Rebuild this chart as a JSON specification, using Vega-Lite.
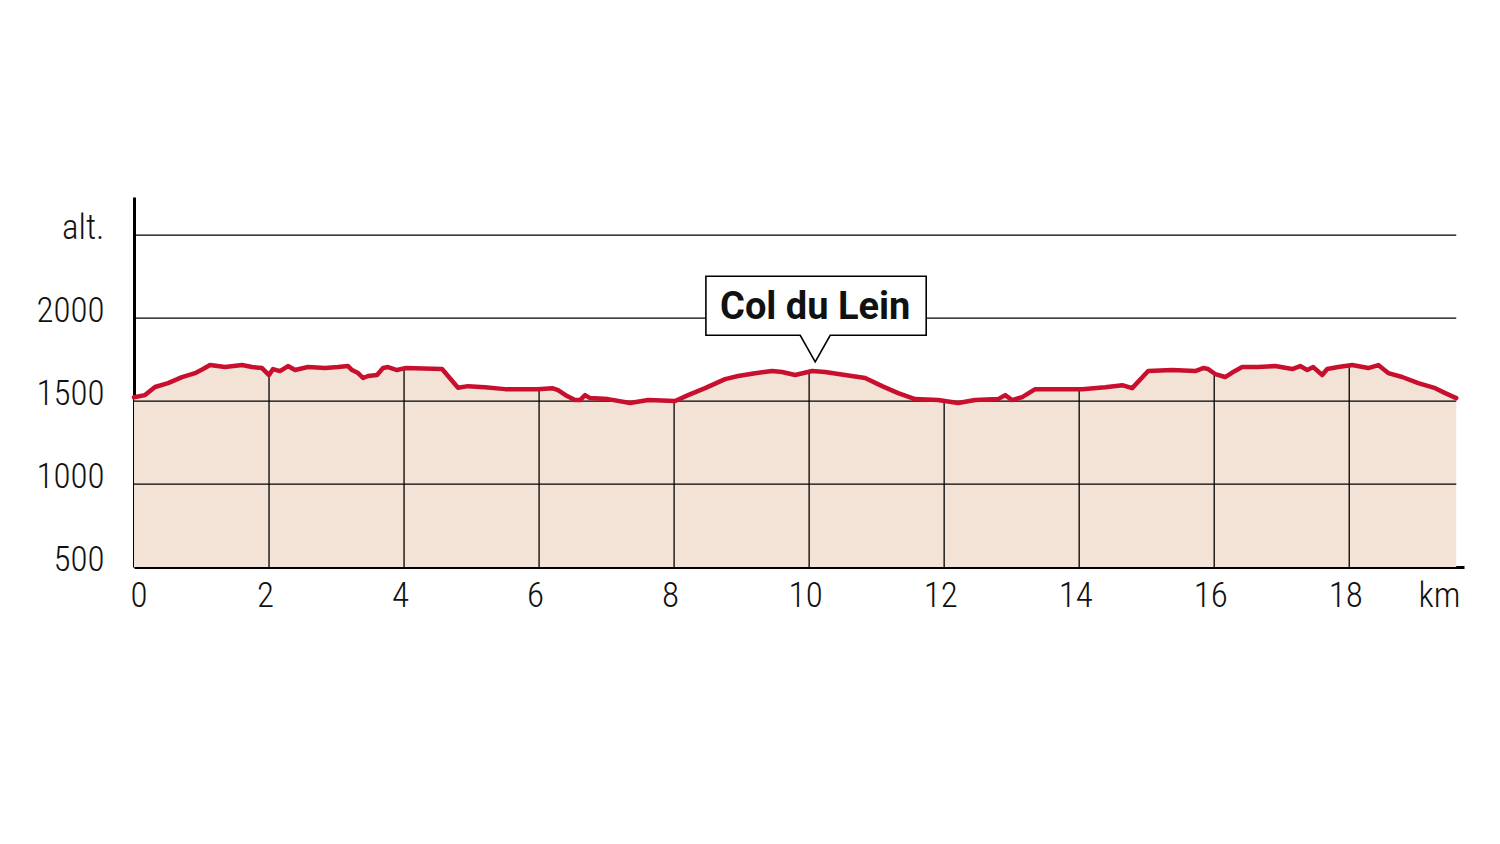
{
  "$schema": "https://vega.github.io/schema/vega-lite/v6.json",
  "autosize": "none",
  "width": 1330,
  "height": 370,
  "padding": {"left": 134, "top": 197, "right": 36, "bottom": 277},
  "background": "white",
  "config": {
    "view": {"stroke": null},
    "axis": {"labelFont": "'Roboto Condensed', 'DejaVu Sans Condensed', 'Liberation Sans Narrow', Roboto, sans-serif", "labelFontWeight": 300, "labelColor": "#111", "grid": false, "ticks": false, "domainColor": "#000", "domainWidth": 3, "title": null}
  },
  "datasets": {
    "profile": [
      {"km": 0.0, "elev": 1523}, {"km": 0.163, "elev": 1536}, {"km": 0.311, "elev": 1585}, {"km": 0.504, "elev": 1608},
      {"km": 0.711, "elev": 1644}, {"km": 0.904, "elev": 1668}, {"km": 1.022, "elev": 1693}, {"km": 1.126, "elev": 1717},
      {"km": 1.348, "elev": 1705}, {"km": 1.6, "elev": 1717}, {"km": 1.748, "elev": 1705}, {"km": 1.896, "elev": 1699},
      {"km": 2.0, "elev": 1657}, {"km": 2.059, "elev": 1693}, {"km": 2.163, "elev": 1681}, {"km": 2.281, "elev": 1711},
      {"km": 2.385, "elev": 1687}, {"km": 2.578, "elev": 1705}, {"km": 2.83, "elev": 1699}, {"km": 3.022, "elev": 1705},
      {"km": 3.17, "elev": 1711}, {"km": 3.23, "elev": 1687}, {"km": 3.319, "elev": 1669}, {"km": 3.393, "elev": 1639},
      {"km": 3.467, "elev": 1651}, {"km": 3.6, "elev": 1657}, {"km": 3.689, "elev": 1699}, {"km": 3.763, "elev": 1705},
      {"km": 3.896, "elev": 1687}, {"km": 4.015, "elev": 1699}, {"km": 4.563, "elev": 1693}, {"km": 4.8, "elev": 1580},
      {"km": 4.948, "elev": 1590}, {"km": 5.2, "elev": 1584}, {"km": 5.496, "elev": 1572}, {"km": 5.985, "elev": 1572},
      {"km": 6.193, "elev": 1578}, {"km": 6.281, "elev": 1566}, {"km": 6.415, "elev": 1530}, {"km": 6.533, "elev": 1506},
      {"km": 6.607, "elev": 1506}, {"km": 6.681, "elev": 1536}, {"km": 6.756, "elev": 1518}, {"km": 7.022, "elev": 1512},
      {"km": 7.348, "elev": 1488}, {"km": 7.615, "elev": 1506}, {"km": 8.015, "elev": 1500}, {"km": 8.207, "elev": 1536},
      {"km": 8.459, "elev": 1578}, {"km": 8.756, "elev": 1632}, {"km": 8.948, "elev": 1651}, {"km": 9.2, "elev": 1668},
      {"km": 9.452, "elev": 1681}, {"km": 9.6, "elev": 1675}, {"km": 9.793, "elev": 1657}, {"km": 10.044, "elev": 1681},
      {"km": 10.237, "elev": 1675}, {"km": 10.533, "elev": 1657}, {"km": 10.83, "elev": 1639}, {"km": 11.081, "elev": 1590},
      {"km": 11.319, "elev": 1548}, {"km": 11.57, "elev": 1512}, {"km": 11.911, "elev": 1506}, {"km": 12.207, "elev": 1488},
      {"km": 12.459, "elev": 1506}, {"km": 12.8, "elev": 1512}, {"km": 12.904, "elev": 1536}, {"km": 13.007, "elev": 1506},
      {"km": 13.156, "elev": 1524}, {"km": 13.348, "elev": 1572}, {"km": 13.644, "elev": 1572}, {"km": 14.044, "elev": 1572},
      {"km": 14.385, "elev": 1584}, {"km": 14.637, "elev": 1596}, {"km": 14.785, "elev": 1578}, {"km": 15.022, "elev": 1681},
      {"km": 15.378, "elev": 1687}, {"km": 15.719, "elev": 1681}, {"km": 15.837, "elev": 1699}, {"km": 15.911, "elev": 1693},
      {"km": 16.015, "elev": 1663}, {"km": 16.163, "elev": 1645}, {"km": 16.267, "elev": 1672}, {"km": 16.415, "elev": 1705},
      {"km": 16.652, "elev": 1705}, {"km": 16.904, "elev": 1711}, {"km": 17.156, "elev": 1693}, {"km": 17.274, "elev": 1711},
      {"km": 17.378, "elev": 1687}, {"km": 17.467, "elev": 1705}, {"km": 17.6, "elev": 1657}, {"km": 17.674, "elev": 1693},
      {"km": 17.837, "elev": 1705}, {"km": 18.044, "elev": 1717}, {"km": 18.281, "elev": 1699}, {"km": 18.43, "elev": 1717},
      {"km": 18.578, "elev": 1669}, {"km": 18.785, "elev": 1645}, {"km": 19.022, "elev": 1608}, {"km": 19.274, "elev": 1578},
      {"km": 19.422, "elev": 1548}, {"km": 19.585, "elev": 1518}
    ],
    "hgrid": [{"elev": 1000}, {"elev": 1500}, {"elev": 2000}, {"elev": 2500}],
    "vgrid": [
      {"km": 2, "elev": 1657}, {"km": 4, "elev": 1699}, {"km": 6, "elev": 1572}, {"km": 8, "elev": 1500},
      {"km": 10, "elev": 1681}, {"km": 12, "elev": 1500}, {"km": 14, "elev": 1572}, {"km": 16, "elev": 1663}, {"km": 18, "elev": 1717}
    ],
    "note": [{"km": 10.09, "elev": 1736, "label": "Col du Lein"}]
  },
  "layer": [
    {"data": {"name": "profile"}, "mark": {"type": "area", "color": "#F3E3D7", "interpolate": "linear"},
      "encoding": {
        "x": {"field": "km", "type": "quantitative", "scale": {"domain": [0, 19.7], "nice": false, "zero": false},
          "axis": {"values": [0, 2, 4, 6, 8, 10, 12, 14, 16, 18, 19.7], "labelExpr": "datum.value > 19 ? 'km' : '' + datum.value", "labelFlush": true, "labelOffset": -4, "labelPadding": 11, "labelFontSize": 35}},
        "y": {"field": "elev", "type": "quantitative", "scale": {"domain": [500, 2730], "nice": false, "zero": false},
          "axis": {"values": [500, 1000, 1500, 2000, 2500], "labelExpr": "datum.value == 2500 ? 'alt.' : '' + datum.value", "labelBaseline": "middle", "labelOffset": -8, "labelPadding": 30, "labelFontSize": 35}},
        "y2": {"datum": 500}}},
    {"data": {"name": "hgrid"}, "mark": {"type": "rule", "color": "#000", "strokeWidth": 1.2},
      "encoding": {"x": {"datum": 0, "type": "quantitative"}, "x2": {"datum": 19.585}, "y": {"field": "elev", "type": "quantitative"}}},
    {"data": {"name": "vgrid"}, "mark": {"type": "rule", "color": "#000", "strokeWidth": 1.3},
      "encoding": {"x": {"field": "km", "type": "quantitative"}, "y": {"field": "elev", "type": "quantitative"}, "y2": {"datum": 500}}},
    {"data": {"name": "profile"}, "mark": {"type": "line", "color": "#C8102E", "strokeWidth": 4.5, "strokeJoin": "round", "strokeCap": "round"},
      "encoding": {"x": {"field": "km", "type": "quantitative"}, "y": {"field": "elev", "type": "quantitative"}}},
    {"data": {"name": "note"}, "mark": {"type": "point", "shape": "M0,0L-0.15,-0.266L-1.093,-0.266L-1.093,-0.856L1.11,-0.856L1.11,-0.266L0.15,-0.266Z", "size": 40000, "filled": true, "fill": "white", "stroke": "#000", "strokeWidth": 1.6, "opacity": 1},
      "encoding": {"x": {"field": "km", "type": "quantitative"}, "y": {"field": "elev", "type": "quantitative"}}},
    {"data": {"name": "note"}, "mark": {"type": "text", "font": "Roboto", "fontWeight": "bold", "fontSize": 38, "color": "#111", "align": "center", "baseline": "alphabetic", "dy": -43},
      "encoding": {"x": {"field": "km", "type": "quantitative"}, "y": {"field": "elev", "type": "quantitative"}, "text": {"field": "label"}}}
  ]
}
